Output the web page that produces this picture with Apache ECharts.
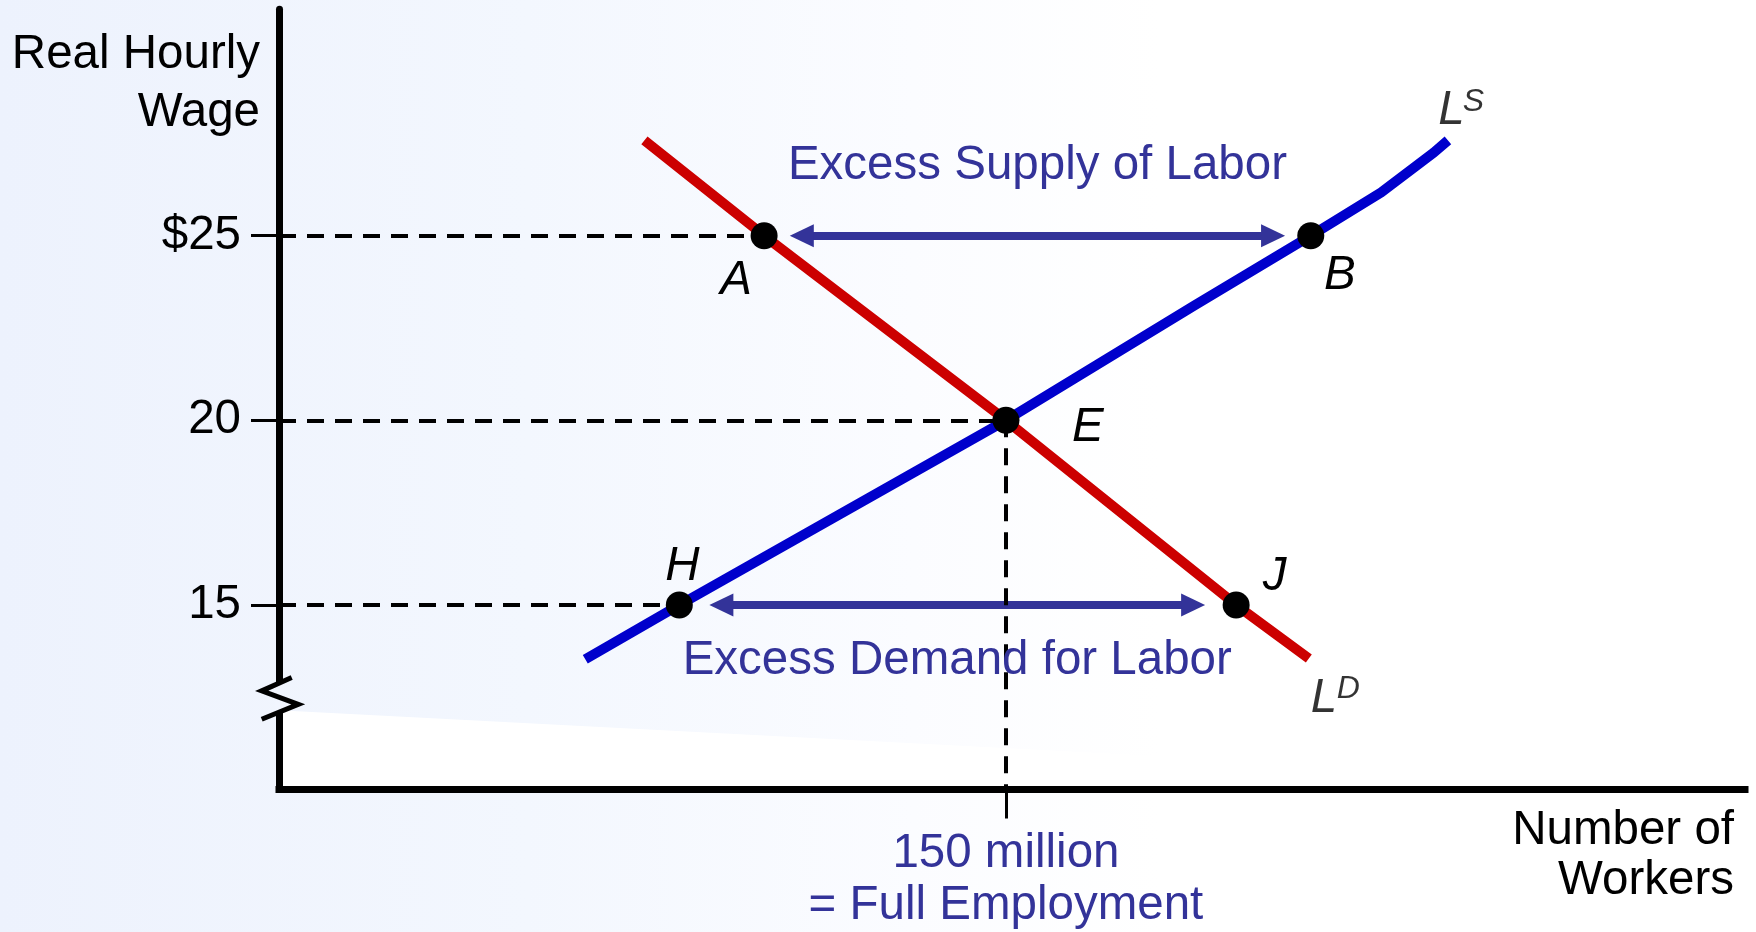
<!DOCTYPE html>
<html>
<head>
<meta charset="utf-8">
<script src="https://cdn.jsdelivr.net/npm/echarts@6/dist/echarts.min.js"></script>
<style>
html,body{margin:0;padding:0;width:1756px;height:932px;overflow:hidden;}
body{background:linear-gradient(to right,#edf2fd 0%,#f3f7fe 30%,#fbfcff 52%,#ffffff 66%,#ffffff 100%);}
#chart{width:1756px;height:932px;}
</style>
</head>
<body>
<div id="chart"></div>
<script>
// ---------------- data ----------------
const supplyQty  = [63.2, 82.6, 150, 188.8, 212.9, 227.4, 238.3, 241.2];
const supplyWage = [13.53, 15, 20, 23.1, 25, 26.17, 27.25, 27.58];
const demandQty  = [75.4, 100.1, 150, 197.5, 212.5];
const demandWage = [27.58, 25, 20, 15, 13.55];
const pointNames = ['A', 'B', 'E', 'H', 'J'];
const pointQty   = [100.1, 212.9, 150, 82.6, 197.5];
const pointWage  = [25, 25, 20, 15, 15];
const wageTicks      = [15, 20, 25];
const wageTickLabels = ['15', '20', '$25'];
const qtyTicks      = [150];
const qtyTickLabels = ['150 million\n= Full Employment'];
const excessSupplyTips = [105.4, 207.6];   // arrow tips at wage 25
const excessDemandTips = [88.8, 191.1];    // arrow tips at wage 15
const axisBreakWage = 12.47;
const X_MIN = 0, X_MAX = 302.5, Y_MIN = 10, Y_MAX = 31.13;

// ---------------- layout / style ----------------
const FONT = "'Liberation Sans', Arial, Helvetica, sans-serif";
const FS = 47.5;
const NAVY = '#333399';
const GRID = {left: 279, top: 9.3, right: 11, bottom: 139.3};
const gridW = 1756 - GRID.left - GRID.right;
const HEAD_LEN = 24, HEAD_W = 23;
const headUnits = (HEAD_LEN / 2) * (X_MAX - X_MIN) / gridW;

const pointLabelOffsets = {A: [-28, 45], B: [29, 40.5], E: [82, 7], H: [3, -38], J: [38.5, -28]};

const chart = echarts.init(document.getElementById('chart'), null, {renderer: 'canvas'});

const supplyData = supplyQty.map((q, i) => [q, supplyWage[i]]);
const demandData = demandQty.map((q, i) => [q, demandWage[i]]);
const supplyEnd = supplyData[supplyData.length - 1];
const demandEnd = demandData[demandData.length - 1];
const idx = n => pointNames.indexOf(n);

const option = {
  animation: false,
  backgroundColor: 'transparent',
  textStyle: {fontFamily: FONT},
  grid: {left: GRID.left, top: GRID.top, right: GRID.right, bottom: GRID.bottom, containLabel: false},
  xAxis: {
    type: 'value', min: X_MIN, max: X_MAX,
    axisLine: {show: true, onZero: false, lineStyle: {color: '#000', width: 7, cap: 'square'}},
    axisTick: {show: true, customValues: qtyTicks, length: 29, lineStyle: {color: '#000', width: 3}},
    axisLabel: {
      show: true, customValues: qtyTicks,
      formatter: v => qtyTickLabels[qtyTicks.indexOf(v)],
      color: NAVY, fontSize: FS, lineHeight: 52, margin: 38.4, fontFamily: FONT
    },
    splitLine: {show: false},
    name: 'Number of\nWorkers', nameLocation: 'end', nameGap: -11,
    nameTextStyle: {align: 'right', verticalAlign: 'top', fontSize: FS, lineHeight: 50,
      color: '#000', padding: [16.2, 0, 0, 0], fontFamily: FONT}
  },
  yAxis: {
    type: 'value', min: Y_MIN, max: Y_MAX,
    axisLine: {show: true, onZero: false, lineStyle: {color: '#000', width: 7}},
    axisTick: {show: true, customValues: wageTicks, length: 28, lineStyle: {color: '#000', width: 3}},
    axisLabel: {
      show: true, customValues: wageTicks,
      formatter: v => wageTickLabels[wageTicks.indexOf(v)],
      color: '#000', fontSize: FS, margin: 38, padding: [7, 0, 0, 0], fontFamily: FONT
    },
    splitLine: {show: false},
    name: 'Real Hourly\nWage', nameLocation: 'end', nameGap: -16.6,
    nameTextStyle: {align: 'right', verticalAlign: 'top', fontSize: FS, lineHeight: 58,
      color: '#000', padding: [0, 19, 0, 0], fontFamily: FONT}
  },
  series: [
    { // excess supply / demand arrows
      type: 'line', data: [], z: 2, silent: true,
      markLine: {
        silent: true, animation: false,
        symbol: ['triangle', 'triangle'], symbolSize: [HEAD_W, HEAD_LEN],
        lineStyle: {color: NAVY, width: 8, type: 'solid'},
        emphasis: {disabled: true},
        data: [
          [{coord: [excessSupplyTips[0] + headUnits, 25],
            label: {show: true, position: 'middle', formatter: 'Excess Supply of Labor', distance: 46.6,
              color: NAVY, fontSize: FS, lineHeight: 46, fontFamily: FONT}},
           {coord: [excessSupplyTips[1] - headUnits, 25]}],
          [{coord: [excessDemandTips[0] + headUnits, 15],
            label: {show: true, position: 'insideMiddleBottom', formatter: 'Excess Demand for Labor', distance: 33.4,
              color: NAVY, fontSize: FS, lineHeight: 46, fontFamily: FONT}},
           {coord: [excessDemandTips[1] - headUnits, 15]}]
        ]
      }
    },
    { // dashed guide lines
      type: 'line', data: [], z: 3, silent: true,
      markLine: {
        silent: true, animation: false, symbol: ['none', 'none'],
        label: {show: false},
        emphasis: {disabled: true},
        lineStyle: {color: '#000', width: 4, type: [17, 11]},
        data: [
          [{coord: [X_MIN, pointWage[idx('A')]]}, {coord: [pointQty[idx('A')], pointWage[idx('A')]]}],
          [{coord: [X_MIN, pointWage[idx('E')]]}, {coord: [pointQty[idx('E')], pointWage[idx('E')]]}],
          [{coord: [X_MIN, pointWage[idx('H')]]}, {coord: [pointQty[idx('H')], pointWage[idx('H')]]}],
          [{coord: [pointQty[idx('E')], pointWage[idx('E')]]}, {coord: [pointQty[idx('E')], Y_MIN]}]
        ]
      }
    },
    { // labor demand
      name: 'LD', type: 'line', data: demandData, z: 4, showSymbol: false, symbol: 'none',
      lineStyle: {color: '#cc0000', width: 10, cap: 'butt'}, silent: true
    },
    { // labor supply
      name: 'LS', type: 'line', data: supplyData, z: 4, showSymbol: false, symbol: 'none',
      lineStyle: {color: '#0000cc', width: 10, cap: 'butt', join: 'round'}, silent: true
    },
    { // points
      type: 'scatter', z: 5, symbol: 'circle', symbolSize: 27, silent: true,
      itemStyle: {color: '#000', opacity: 1},
      label: {show: true, position: 'inside', formatter: '{b}', color: '#000', fontStyle: 'italic',
        fontSize: FS, fontFamily: FONT, textBorderWidth: 0},
      data: pointNames.map((n, i) => ({name: n, value: [pointQty[i], pointWage[i]],
        label: {offset: pointLabelOffsets[n]}}))
    },
    { // curve labels
      type: 'scatter', z: 6, symbolSize: 0.1, silent: true,
      itemStyle: {color: 'rgba(0,0,0,0)'},
      label: {show: true, position: 'inside', formatter: '{b}', color: '#000', fontStyle: 'italic',
        fontSize: FS, fontFamily: FONT, textBorderWidth: 0},
      data: [
        {name: 'L', value: supplyEnd, label: {offset: [3.5, -29.5]}},
        {name: 'S', value: supplyEnd, label: {offset: [25.5, -38.5], fontSize: 32}},
        {name: 'L', value: demandEnd, label: {offset: [15, 40]}},
        {name: 'D', value: demandEnd, label: {offset: [39.5, 30.5], fontSize: 32}}
      ]
    }
  ]
};
chart.setOption(option);

// axis break decoration + lighter plot band, positioned through the axis scale
const bc = chart.convertToPixel({gridIndex: 0}, [X_MIN, axisBreakWage]);
const origin = chart.convertToPixel({gridIndex: 0}, [X_MIN, Y_MIN]);
const bx = bc[0], by = bc[1];
chart.setOption({
  graphic: [
    {type: 'polygon', z: -10, silent: true,
      shape: {points: [[bx + 4, by + 12], [bx + 1120, by + 70], [bx + 1120, origin[1]], [bx + 4, origin[1]]]},
      style: {fill: '#ffffff'}},
    {type: 'rect', z: 100, silent: true,
      shape: {x: bx - 4.5, y: by - 15, width: 9, height: 29},
      style: {fill: '#f1f5fe'}},
    {type: 'polyline', z: 101, silent: true,
      shape: {points: [[bx + 12.7, by - 20.8], [bx - 17.3, by - 7.5], [bx + 19.3, by + 5.9], [bx - 17.3, by + 20.9]]},
      style: {stroke: '#000', lineWidth: 5, fill: null, lineJoin: 'miter'}}
  ]
});
</script>
</body>
</html>
